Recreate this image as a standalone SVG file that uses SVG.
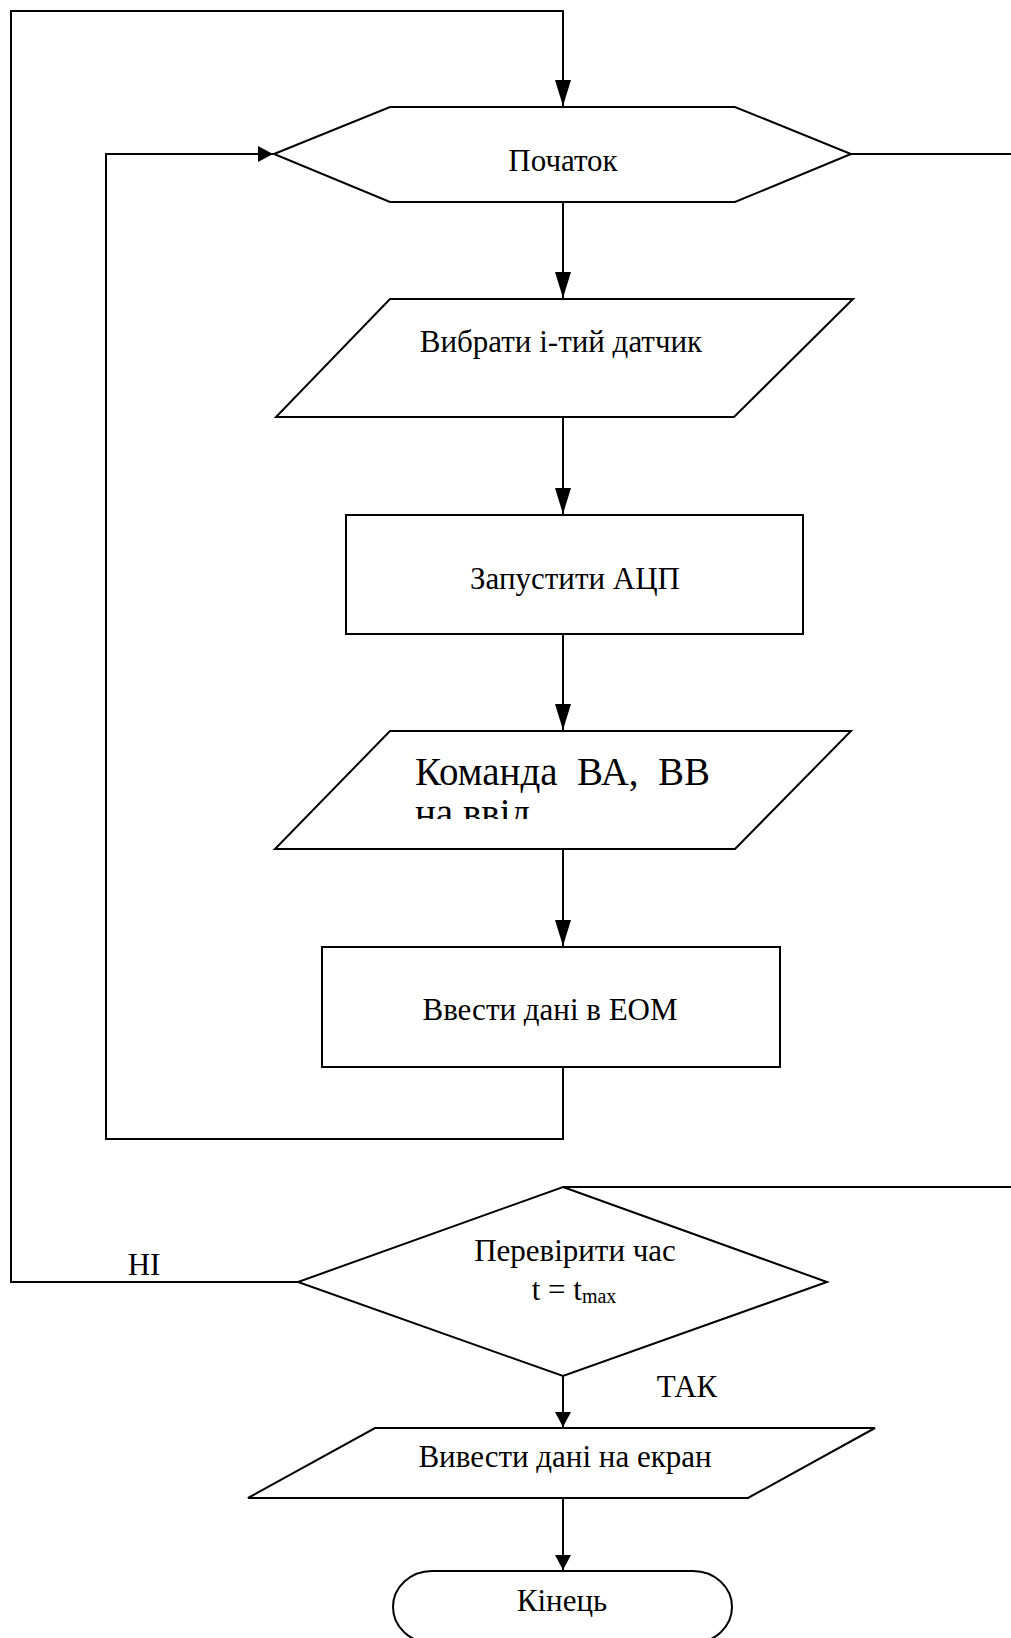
<svg xmlns="http://www.w3.org/2000/svg" width="1011" height="1638" viewBox="0 0 1011 1638">
<style>
.s{fill:#fff;stroke:#000;stroke-width:2}
.c{fill:none;stroke:#000;stroke-width:2}
text{font-family:"Liberation Serif","Times New Roman",serif;font-size:31px;fill:#000}
.m{text-anchor:middle}
.big{font-size:39px}
</style>
<defs>
<marker id="aL" markerUnits="userSpaceOnUse" markerWidth="26" markerHeight="16" refX="26" refY="8" orient="auto"><path d="M0,0 L26,8 L0,16 Z" fill="#000"/></marker>
<marker id="aS" markerUnits="userSpaceOnUse" markerWidth="15" markerHeight="16" refX="15" refY="8" orient="auto"><path d="M0,0 L15,8 L0,16 Z" fill="#000"/></marker>
<clipPath id="clipNa"><rect x="380" y="797" width="420" height="22"/></clipPath>
</defs>
<rect width="1011" height="1638" fill="#fff"/>
<g id="connectors">
<path class="c" d="M298,1282 L11,1282 L11,11 L563,11 L563,106" marker-end="url(#aL)"/>
<path class="c" d="M563,1067 L563,1139 L106,1139 L106,154 L273,154" marker-end="url(#aS)"/>
<path class="c" d="M563,202 L563,298" marker-end="url(#aL)"/>
<path class="c" d="M563,417 L563,514" marker-end="url(#aL)"/>
<path class="c" d="M563,634 L563,730" marker-end="url(#aL)"/>
<path class="c" d="M563,849 L563,946" marker-end="url(#aL)"/>
<path class="c" d="M851,154 L1011,154"/>
<path class="c" d="M563,1187 L1011,1187"/>
<path class="c" d="M563,1376 L563,1427" marker-end="url(#aS)"/>
<path class="c" d="M563,1498 L563,1570" marker-end="url(#aS)"/>
</g>
<g id="start">
<polygon class="s" points="274,154 390,107 735,107 851,154 735,202 390,202"/>
<text class="m" x="563" y="171">Початок</text>
</g>
<g id="select">
<polygon class="s" points="390,299 853,299 734,417 276,417"/>
<text class="m" x="561" y="352">Вибрати і-тий датчик</text>
</g>
<g id="adc">
<rect class="s" x="346" y="515" width="457" height="119"/>
<text class="m" x="575" y="589">Запустити АЦП</text>
</g>
<g id="command">
<polygon class="s" points="390,731 851,731 735,849 275,849"/>
<text class="big" x="415" y="785" xml:space="preserve">Команда  ВА,  ВВ</text>
<text class="big" x="415" y="826" clip-path="url(#clipNa)">на ввід</text>
</g>
<g id="input">
<rect class="s" x="322" y="947" width="458" height="120"/>
<text class="m" x="550" y="1020">Ввести дані в ЕОМ</text>
</g>
<g id="check">
<polygon class="s" points="563,1187 827,1282 563,1376 298,1282"/>
<text class="m" x="575" y="1261">Перевірити час</text>
<text class="m" x="574" y="1300">t = t<tspan font-size="20" dy="3">max</tspan></text>
</g>
<text x="144" y="1275" class="m">НІ</text>
<text x="687" y="1397" class="m">ТАК</text>
<g id="output">
<polygon class="s" points="375,1428 875,1428 748,1498 248,1498"/>
<text class="m" x="565" y="1467">Вивести дані на екран</text>
</g>
<g id="end">
<rect class="s" x="393" y="1571" width="339" height="72" rx="39" ry="36"/>
<text class="m" x="562" y="1611">Кінець</text>
</g>
</svg>
